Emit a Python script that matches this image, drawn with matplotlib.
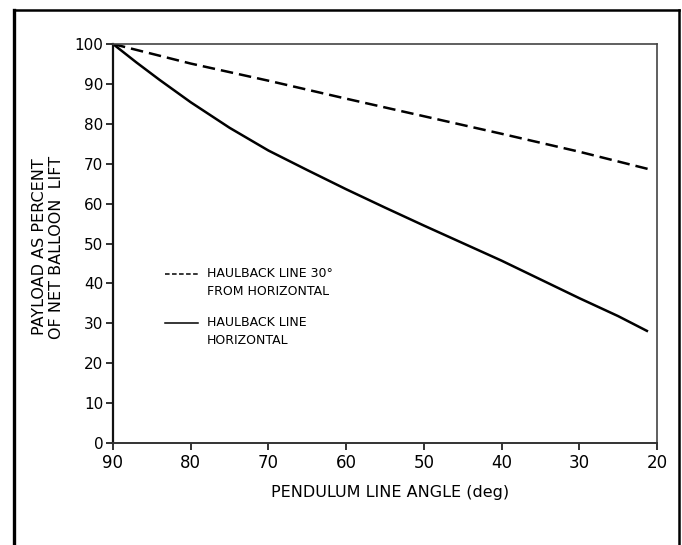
import matplotlib
matplotlib.use("Agg")
import matplotlib.pyplot as plt
from matplotlib.lines import Line2D

# Pendulum line angle (deg) and payload as percent of net balloon lift
angle_30 = [90, 80, 70, 60, 50, 40, 30, 21.2]
payload_30 = [100, 95.1, 90.8, 86.3, 81.9, 77.5, 73.0, 68.7]

angle_hz = [90, 87, 84, 80, 75, 70, 65, 60, 55, 50, 45, 40, 35, 30, 25, 21.3]
payload_hz = [100, 95.4, 91.0, 85.4, 79.0, 73.3, 68.4, 63.6, 59.0, 54.5, 50.1, 45.7, 41.0, 36.3, 31.8, 28.1]

x_ticks = [90, 80, 70, 60, 50, 40, 30, 20]
y_ticks = [0, 10, 20, 30, 40, 50, 60, 70, 80, 90, 100]

legend_labels = ["HAULBACK LINE 30\u00b0\nFROM HORIZONTAL", "HAULBACK LINE\nHORIZONTAL"]

plt.rcParams['font.family'] = ['DejaVu Sans']

fig = plt.figure(figsize=(6.82, 5.45), dpi=100)
ax = fig.add_axes([113 / 682, 1 - 443 / 545, 544 / 682, 399 / 545])

ax.plot(angle_30, payload_30, color='black', lw=1.8, dashes=(5, 2.4))
ax.plot(angle_hz, payload_hz, color='black', lw=1.8, solid_joinstyle='round')

ax.set_xlim(90, 20)
ax.set_ylim(0, 100)
ax.set_xticks(x_ticks)
ax.set_yticks(y_ticks)
ax.tick_params(axis='both', direction='out', length=5, width=1.3, color='#222222')
ax.tick_params(axis='y', labelsize=11, pad=2)
ax.tick_params(axis='x', labelsize=12, pad=3)

ax.spines['left'].set_linewidth(1.6)
ax.spines['left'].set_color('#111111')
ax.spines['bottom'].set_linewidth(1.4)
ax.spines['bottom'].set_color('#333333')
for s in ['top', 'right']:
    ax.spines[s].set_linewidth(1.2)
    ax.spines[s].set_color('#444444')

# legend drawn by hand, handle next to the first line of each label
leg_x0, leg_x1, txt_x = 0.096, 0.157, 0.172
for i, (lab, ls) in enumerate(zip(legend_labels, ['dashed', 'solid'])):
    yy = 0.423 - i * 0.123
    kw = dict(dashes=(3, 1.6)) if ls == 'dashed' else {}
    ax.add_line(Line2D([leg_x0, leg_x1], [yy, yy], transform=ax.transAxes,
                       color='black', lw=1.1, **kw))
    ax.text(txt_x, yy + 0.018, lab, transform=ax.transAxes, fontsize=9,
            va='top', ha='left', linespacing=1.5)

fig.text(390 / 682, 1 - 493 / 545, "PENDULUM LINE ANGLE (deg)", ha='center', va='center', fontsize=11.5)
fig.text(48 / 682, 1 - 247 / 545, "PAYLOAD AS PERCENT\nOF NET BALLOON  LIFT", rotation=90,
         ha='center', va='center', fontsize=11.5, multialignment='center', linespacing=1.1)

# outer frame (bottom edge cut off in original)
fx0, fx1, fy1 = 14 / 682, 679 / 682, 1 - 10 / 545
fig.add_artist(Line2D([fx0, fx0], [0, fy1], transform=fig.transFigure, color='black', lw=2.4))
fig.add_artist(Line2D([fx0, fx1], [fy1, fy1], transform=fig.transFigure, color='black', lw=1.8))
fig.add_artist(Line2D([fx1, fx1], [0, fy1], transform=fig.transFigure, color='black', lw=1.8))

fig.savefig("out.png", dpi=100)
